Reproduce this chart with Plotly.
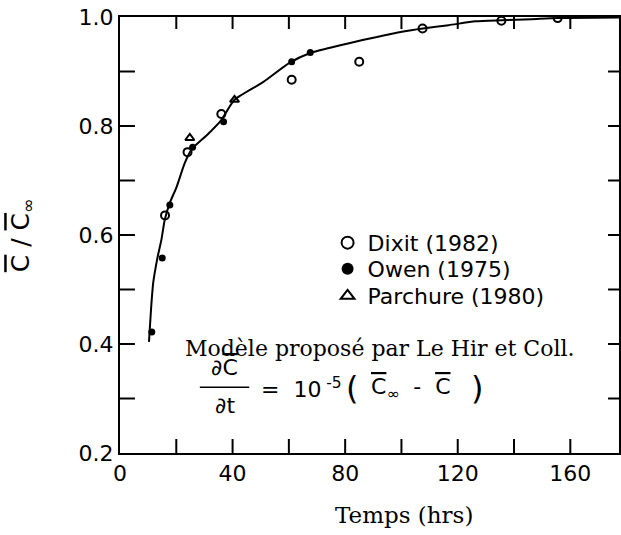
import plotly.graph_objects as go

# Mean concentration ratio C/C_inf versus time (hours)
dixit_t = [16.0, 24.0, 36.0, 61.0, 85.0, 107.5, 135.5, 155.5]
dixit_c = [0.636, 0.752, 0.822, 0.885, 0.918, 0.979, 0.993, 0.998]

owen_t = [11.3, 15.0, 17.7, 25.8, 36.8, 61.0, 67.6]
owen_c = [0.422, 0.558, 0.655, 0.761, 0.808, 0.918, 0.935]

parchure_t = [24.8, 40.7]
parchure_c = [0.778, 0.848]

# Proposed model curve (Le Hir et al.)
model_t = [10.3, 11.0, 11.8, 13.3, 14.7, 15.9, 17.7, 20.1, 23.0, 25.6, 31.2, 36.0,
           40.7, 50.7, 60.2, 67.6, 74.3, 81.4, 90.9, 100.2, 107.6, 116.8, 126.3,
           135.6, 146.2, 155.4, 177.7]
model_c = [0.404, 0.462, 0.512, 0.558, 0.591, 0.628, 0.659, 0.688, 0.732, 0.758,
           0.785, 0.811, 0.848, 0.880, 0.916, 0.934, 0.943, 0.952, 0.963, 0.973,
           0.979, 0.985, 0.992, 0.994, 0.996, 0.998, 0.999]

# Tick marks on the frame (labels every 40 h / 0.2, marks every 20 h / 0.1)
x_tick_marks = [20, 40, 60, 80, 100, 120, 140, 160]
y_tick_marks = [0.3, 0.4, 0.5, 0.6, 0.7, 0.8, 0.9]
x_label_step = 40
y_label_step = 0.2

X_RANGE = [0, 177.3]
Y_RANGE = [0.2, 1.0]

SANS = "'DejaVu Sans ExtraLight', 'DejaVu Sans', sans-serif"
SERIF = "'DejaVu Serif', 'Liberation Serif', serif"
INK = "#000000"

BAR_C = "<span style='text-decoration:overline'>C</span>"

W, H = 621, 535
M = dict(l=120, r=0, t=17, b=82)
plot_w = W - M["l"] - M["r"]
plot_h = H - M["t"] - M["b"]
# convert a pixel length into axis units
x_per_px = (X_RANGE[1] - X_RANGE[0]) / plot_w
y_per_px = (Y_RANGE[1] - Y_RANGE[0]) / plot_h

fig = go.Figure()

# inward frame ticks, one segment per tick value
tx, ty = [], []
for v in x_tick_marks:
    tx += [v, v, None, v, v, None]
    ty += [Y_RANGE[0], Y_RANGE[0] + 14 * y_per_px, None,
           Y_RANGE[1], Y_RANGE[1] - 12 * y_per_px, None]
for v in y_tick_marks:
    tx += [X_RANGE[0], X_RANGE[0] + 15 * x_per_px, None,
           X_RANGE[1], X_RANGE[1] - 11 * x_per_px, None]
    ty += [v, v, None, v, v, None]
fig.add_trace(go.Scatter(x=tx, y=ty, mode="lines", showlegend=False, hoverinfo="skip",
                         line=dict(color=INK, width=2), cliponaxis=False))

fig.add_trace(go.Scatter(
    x=model_t, y=model_c, mode="lines", showlegend=False,
    line=dict(color=INK, width=2, shape="spline", smoothing=0.6),
))
fig.add_trace(go.Scatter(
    x=dixit_t, y=dixit_c, mode="markers", name="Dixit (1982)", legend="legend",
    marker=dict(symbol="circle-open", size=8, color=INK, line=dict(width=2, color=INK)),
))
fig.add_trace(go.Scatter(
    x=owen_t, y=owen_c, mode="markers", name="Owen (1975)", legend="legend2",
    marker=dict(symbol="circle", size=7, color=INK),
))
fig.add_trace(go.Scatter(
    x=parchure_t, y=parchure_c, mode="markers", name="Parchure (1980)", legend="legend3",
    marker=dict(symbol="triangle-up-open", size=8, color=INK, line=dict(width=2, color=INK)),
))

axis_common = dict(
    showgrid=False, zeroline=False, showline=True, linecolor=INK, linewidth=2,
    mirror=True, ticks="", tickfont=dict(family=SANS, size=22, color=INK),
)
fig.update_xaxes(range=X_RANGE, tickmode="linear", tick0=0, dtick=x_label_step,
                 **axis_common)
fig.update_yaxes(range=Y_RANGE, tickmode="linear", tick0=0.2, dtick=y_label_step,
                 tickformat=".1f", **axis_common)


def note(text, x, y, size, family=SANS, xanchor="center", yanchor="middle", angle=0):
    return dict(text=text, x=x, y=y, xref="paper", yref="paper", showarrow=False,
                xanchor=xanchor, yanchor=yanchor, textangle=angle,
                font=dict(family=family, size=size, color=INK))


annotations = [
    # axis titles
    note(f"{BAR_C} / {BAR_C}<sub>\u221e</sub>", -0.196, 0.5, 25, angle=-90),
    note("Temps (hrs)", 0.57, -0.142, 23, family=SERIF),
    # model description
    note("Modèle proposé par Le Hir et Coll.", 0.126, 0.24, 22, family=SERIF, xanchor="left"),
    note(f"\u2202{BAR_C}", 0.2096, 0.195, 22),
    note("\u2202t", 0.2096, 0.110, 22),
    note("=  10<sup> -5</sup>", 0.279, 0.149, 22, xanchor="left"),
    note("(", 0.465, 0.149, 32),
    note(f"{BAR_C}<sub>\u221e</sub>  -  {BAR_C}", 0.499, 0.149, 22, xanchor="left"),
    note(")", 0.715, 0.149, 32),
]

legend_style = dict(x=0.416, xanchor="left", yanchor="middle", bgcolor="rgba(0,0,0,0)",
                    font=dict(family=SANS, size=22, color=INK), itemsizing="constant")

fig.update_layout(
    width=W, height=H,
    margin=M,
    paper_bgcolor="white", plot_bgcolor="white",
    annotations=annotations,
    shapes=[dict(type="line", xref="paper", yref="paper", x0=0.16, x1=0.259,
                 y0=0.151, y1=0.151, line=dict(color=INK, width=1.5))],
    legend=dict(y=0.482, **legend_style),
    legend2=dict(y=0.422, **legend_style),
    legend3=dict(y=0.360, **legend_style),
    showlegend=True,
)

fig.write_html("out.html")
